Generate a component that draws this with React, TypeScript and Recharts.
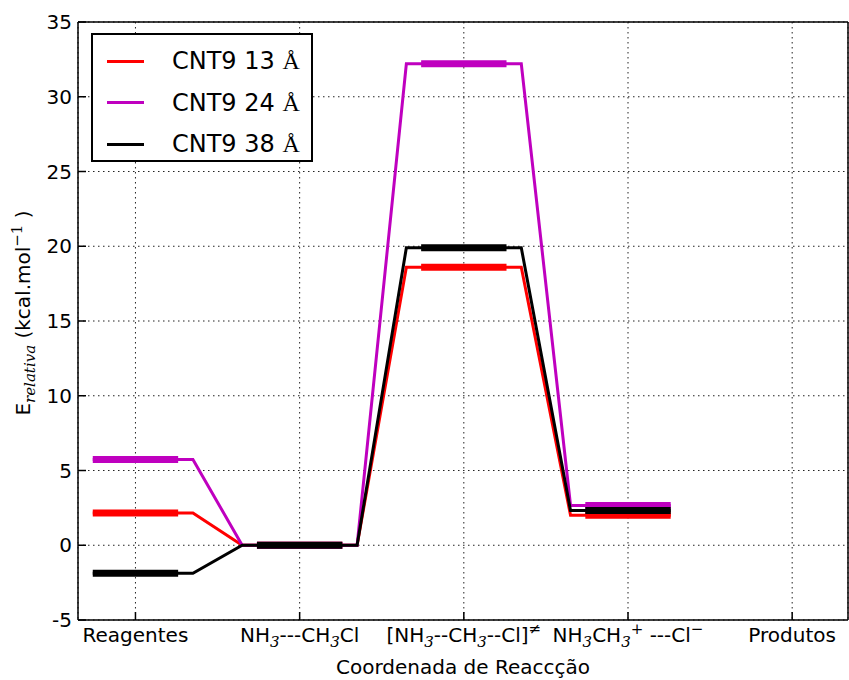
import { CartesianGrid, Legend, Line, LineChart, XAxis, YAxis } from "recharts";

// reaction coordinate states ("_x" = subscript, "^x" = superscript)
const states = ["Reagentes", "NH_3---CH_3Cl", "[NH_3--CH_3--Cl]^≠", "NH_3CH_3^+ ---Cl^−", "Produtos"];
const stateTicks = [0, 1, 2, 3, 4];
const energyTicks = [-5, 0, 5, 10, 15, 20, 25, 30, 35];

// relative energies (kcal/mol) per state
const cnt13 = [2.15, 0, 18.6, 2.0];
const cnt24 = [5.74, 0, 32.2, 2.66];
const cnt38 = [-1.87, 0, 19.9, 2.32];

const seriesNames = ["CNT9 13", "CNT9 24", "CNT9 38"];
const seriesColors = ["#ff0000", "#bf00bf", "#000000"];
const seriesValues = [cnt13, cnt24, cnt38];

const LEVEL_HALF = 0.26;
const LINK_HALF = 0.35;
const FONT = "DejaVu Sans";
const MATH = "DejaVu Serif";

// thin connecting line: runs along each level and joins to the next one
function linkPoints(values: number[]) {
    const last = values.length - 1;
    const pts: { x: number; y: number | null }[] = [];
    values.forEach((e, i) => {
        pts.push({ x: i - (i === 0 ? LEVEL_HALF : LINK_HALF), y: e });
        pts.push({ x: i + (i === last ? LEVEL_HALF : LINK_HALF), y: e });
    });
    return pts;
}

// thick level bars, broken by null points
function levelPoints(values: number[]) {
    const pts: { x: number; y: number | null }[] = [];
    values.forEach((e, i) => {
        pts.push({ x: i - LEVEL_HALF, y: e }, { x: i + LEVEL_HALF, y: e }, { x: i + 0.5, y: null });
    });
    return pts;
}

function parseRich(s: string) {
    const parts: { t: string; k: "n" | "sub" | "sup" }[] = [];
    for (let i = 0; i < s.length; i++) {
        const c = s[i];
        if ((c === "_" || c === "^") && i + 1 < s.length) {
            parts.push({ t: s[i + 1], k: c === "_" ? "sub" : "sup" });
            i++;
        } else if (parts.length && parts[parts.length - 1].k === "n") {
            parts[parts.length - 1].t += c;
        } else {
            parts.push({ t: c, k: "n" });
        }
    }
    return parts;
}

function RichText({ text, x, y, fontSize }: { text: string; x: number; y: number; fontSize: number }) {
    const parts = parseRich(text);
    let cur = 0;
    return (
        <text x={x} y={y} textAnchor="middle" fontFamily={FONT} fontSize={fontSize} fill="#000">
            {parts.map((p, i) => {
                const target = p.k === "sub" ? 5 : p.k === "sup" ? -8 : 0;
                const dy = target - cur;
                cur = target;
                if (p.k === "n") {
                    return (
                        <tspan key={i} dy={dy}>
                            {p.t}
                        </tspan>
                    );
                }
                return (
                    <tspan key={i} dy={dy} fontFamily={MATH} fontStyle={p.k === "sub" ? "italic" : "normal"} fontSize={15}>
                        {p.t}
                    </tspan>
                );
            })}
        </text>
    );
}

function StateTick(props: any) {
    const { x, y, payload } = props;
    return <RichText text={states[payload.value]} x={x} y={y + 14} fontSize={20} />;
}

function LegendBox() {
    return (
        <div
            style={{
                width: 222,
                height: 129,
                boxSizing: "border-box",
                border: "2px solid #000",
                background: "#fff",
                fontFamily: FONT,
                fontSize: 24,
                position: "relative",
            }}
        >
            {seriesNames.map((name, i) => (
                <div key={name} style={{ position: "absolute", left: 0, top: 26 + i * 41.5 - 16, height: 32, display: "flex", alignItems: "center" }}>
                    <div style={{ marginLeft: 14, width: 37, height: 3, background: seriesColors[i] }} />
                    <span style={{ marginLeft: 28, whiteSpace: "nowrap" }}>
                        {name} <span style={{ fontFamily: "Liberation Serif" }}>Å</span>
                    </span>
                </div>
            ))}
        </div>
    );
}

export default function App() {
    const axisStroke = { stroke: "#000", strokeWidth: 1.5 };
    return (
        <div style={{ position: "absolute", left: 0, top: 0, width: 849, height: 680, background: "#fff" }}>
            <LineChart width={849} height={680} margin={{ top: 0, right: 0, bottom: 0, left: 0 }}>
                <CartesianGrid stroke="#222" strokeWidth={1} strokeDasharray="1.5 3.5" />
                <XAxis
                    dataKey="x"
                    type="number"
                    domain={[-0.35, 4.34]}
                    ticks={stateTicks}
                    allowDataOverflow
                    height={60}
                    tickSize={-8}
                    tickMargin={16}
                    axisLine={axisStroke}
                    tickLine={axisStroke}
                    tick={(p: any) => <StateTick {...p} />}
                    label={{
                        content: () => (
                            <text x={463} y={674} textAnchor="middle" fontFamily={FONT} fontSize={20} fill="#000">
                                Coordenada de Reaccção
                            </text>
                        ),
                    }}
                />
                <XAxis
                    xAxisId="top"
                    orientation="top"
                    dataKey="x"
                    type="number"
                    domain={[-0.35, 4.34]}
                    ticks={stateTicks}
                    allowDataOverflow
                    height={22}
                    tickSize={-8}
                    axisLine={axisStroke}
                    tickLine={axisStroke}
                    tick={false}
                />
                <YAxis
                    type="number"
                    domain={[-5, 35]}
                    ticks={energyTicks}
                    allowDataOverflow
                    width={78}
                    tickSize={-8}
                    tickMargin={14}
                    axisLine={axisStroke}
                    tickLine={axisStroke}
                    tick={{ fill: "#000", fontSize: 20, fontFamily: FONT }}
                    label={{
                        content: () => (
                            <text
                                x={30}
                                y={313}
                                transform="rotate(-90 30 313)"
                                textAnchor="middle"
                                fontFamily={FONT}
                                fontSize={20}
                                fill="#000"
                            >
                                E
                                <tspan dy={5} fontFamily={MATH} fontStyle="italic" fontSize={15}>
                                    relativa
                                </tspan>
                                <tspan dy={-5}> (kcal.mol</tspan>
                                <tspan dy={-8} fontFamily={MATH} fontSize={15}>
                                    −1
                                </tspan>
                                <tspan dy={8}> )</tspan>
                            </text>
                        ),
                    }}
                />
                <YAxis
                    yAxisId="right"
                    orientation="right"
                    type="number"
                    domain={[-5, 35]}
                    ticks={energyTicks}
                    width={1}
                    tickSize={-8}
                    axisLine={axisStroke}
                    tickLine={axisStroke}
                    tick={false}
                />
                <Legend layout="vertical" align="center" verticalAlign="middle" wrapperStyle={{ left: 91, top: 33, width: 222 }} content={() => <LegendBox />} />
                {seriesValues.map((vals, i) => [
                    <Line
                        key={`link-${i}`}
                        data={linkPoints(vals)}
                        dataKey="y"
                        name={seriesNames[i]}
                        type="linear"
                        stroke={seriesColors[i]}
                        strokeWidth={3}
                        dot={false}
                        activeDot={false}
                        isAnimationActive={false}
                    />,
                    <Line
                        key={`level-${i}`}
                        data={levelPoints(vals)}
                        dataKey="y"
                        legendType="none"
                        type="linear"
                        stroke={seriesColors[i]}
                        strokeWidth={7}
                        dot={false}
                        activeDot={false}
                        isAnimationActive={false}
                    />,
                ])}
            </LineChart>
        </div>
    );
}
